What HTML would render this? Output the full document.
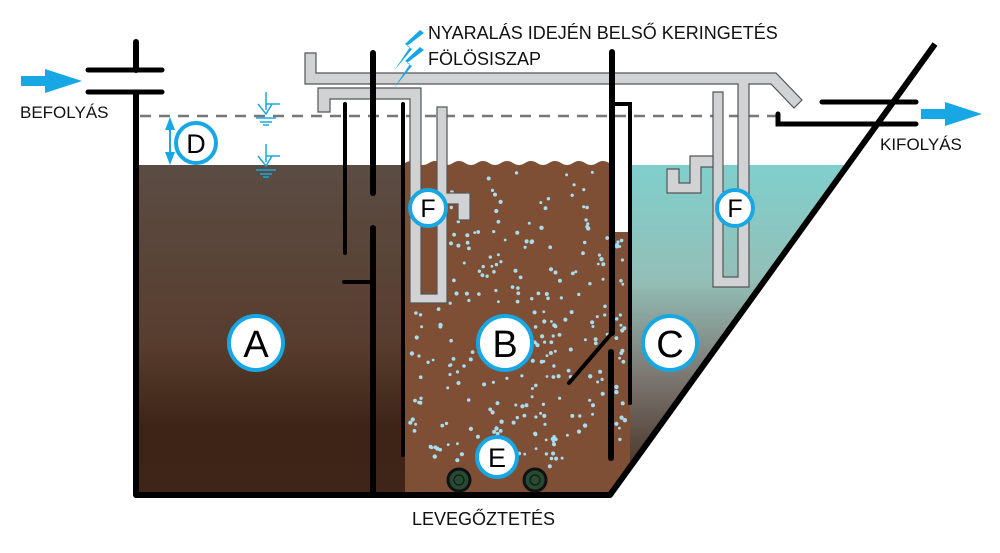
<!DOCTYPE html>
<html><head><meta charset="utf-8">
<style>
html,body{margin:0;padding:0;background:#fff;}
svg{display:block;}
text{font-family:"Liberation Sans",sans-serif;}
</style></head><body>
<svg id="s" width="1000" height="553" viewBox="0 0 1000 553" xmlns="http://www.w3.org/2000/svg">
<defs>
<linearGradient id="ga" x1="0" y1="0" x2="0" y2="1">
<stop offset="0" stop-color="#5b4c43"/><stop offset="0.55" stop-color="#583d2e"/><stop offset="0.8" stop-color="#3e2416"/><stop offset="1" stop-color="#3e2517"/>
</linearGradient>
<linearGradient id="gc" gradientUnits="userSpaceOnUse" x1="0" y1="165" x2="0" y2="493">
<stop offset="0" stop-color="#80cfcc"/><stop offset="0.35" stop-color="#93bfb7"/><stop offset="0.65" stop-color="#7b7670"/><stop offset="1" stop-color="#3d2519"/>
</linearGradient>
</defs>
<!-- fills -->
<rect x="138" y="165" width="268" height="328" fill="url(#ga)"/>
<path d="M405,163 q6,-4 12,0 t12,0 t12,0 t12,0 t12,0 t12,0 t12,0 t12,0 t12,0 t12,0 t12,0 t12,0 t12,0 t12,0 t12,0 t12,0 t12,0 L612,163 L612,493 L405,493 Z" fill="#7e4e35"/>
<path d="M612,232 L630,232 L630,467 L612,492 Z" fill="#7e4e35"/>
<path d="M630,165 L848,165 L630,467 Z" fill="url(#gc)"/>
<g id="dots" fill="#a8dcef"></g>
<!-- dashed level -->
<line x1="140" y1="116" x2="778" y2="116" stroke="#777" stroke-width="2.5" stroke-dasharray="11 8"/>
<!-- gray pipes -->
<g fill="#d1d2d4" stroke="#555" stroke-width="1.2">
<path d="M305,53 H316 V73 H776 L802,100 L794,108 L771,84 H749 V287 H713 V92 H723 V277 H738 V84 H305 Z"/>
<path d="M318,88 H421 V294 H437 V107 H447 V193 H470 V220 H458 V204 H447 V303 H410 V99 H330 V112 H318 Z"/>
<path d="M667,169 H679 V183 H690 V156 H713 V167 H701 V193 H667 Z"/>
</g>
<!-- walls -->
<g stroke="#000" fill="none" stroke-linecap="round">
<line x1="136" y1="42" x2="136" y2="70" stroke-width="6"/>
<path d="M136,92 V495 H610 L935,44" stroke-width="6" stroke-linejoin="round" stroke-linecap="butt"/>
<line x1="88" y1="70" x2="162" y2="70" stroke-width="5"/>
<line x1="88" y1="92" x2="162" y2="92" stroke-width="5"/>
<line x1="373" y1="53" x2="373" y2="193" stroke-width="6"/>
<line x1="373" y1="228" x2="373" y2="495" stroke-width="6"/>
<line x1="345" y1="104" x2="345" y2="253" stroke-width="4"/>
<line x1="344" y1="282" x2="373" y2="282" stroke-width="4"/>
<line x1="403" y1="104" x2="403" y2="455" stroke-width="4"/>
<line x1="612" y1="52" x2="612" y2="333" stroke-width="6"/>
<line x1="612" y1="333" x2="569" y2="383" stroke-width="4"/>
<line x1="611" y1="352" x2="611" y2="458" stroke-width="6"/>
<path d="M612,104 H630 V403" stroke-width="4"/>
<line x1="822" y1="102" x2="916" y2="102" stroke-width="5"/>
<path d="M778,114 V124 H916" stroke-width="5"/>
</g>
<!-- aerators -->
<circle cx="459" cy="480" r="11" fill="#274a33" stroke="#111" stroke-width="3"/>
<circle cx="459" cy="480" r="5" fill="none" stroke="#111" stroke-width="1"/>
<circle cx="535" cy="480" r="11" fill="#274a33" stroke="#111" stroke-width="3"/>
<circle cx="535" cy="480" r="5" fill="none" stroke="#111" stroke-width="1"/>
<!-- arrows -->
<path d="M21,76 H45 V69 L82,81 L45,93 V86 H21 Z" fill="#16a7e4"/>
<path d="M921,109 H945 V102 L982,114 L945,126 V119 H921 Z" fill="#16a7e4"/>
<path d="M420,30 L405,44 L410,47 L394,71 L412,49 L407,46 L424,33 Z" fill="#16a7e4"/>
<path d="M420,47 L405,61 L410,64 L394,88 L412,66 L407,63 L424,50 Z" fill="#16a7e4"/>
<!-- D arrow -->
<g fill="#16a7e4" stroke="#16a7e4">
<line x1="170" y1="122" x2="170" y2="160" stroke-width="2"/>
<path d="M170,117 L175,130 L165,130 Z" stroke="none"/>
<path d="M170,165 L175,152 L165,152 Z" stroke="none"/>
</g>
<!-- level symbols -->
<g stroke="#16a7e4" stroke-width="1.5" fill="none">
<path d="M266,92 V110 M266,104 H280 M258,104 L266,114 L272,104"/>
<line x1="256" y1="118" x2="276" y2="118"/><line x1="260" y1="122" x2="272" y2="122"/><line x1="263" y1="125" x2="269" y2="125"/>
<path d="M266,144 V162 M266,156 H280 M258,156 L266,166 L272,156"/>
<line x1="256" y1="170" x2="276" y2="170"/><line x1="260" y1="174" x2="272" y2="174"/><line x1="263" y1="177" x2="269" y2="177"/>
</g>
<!-- circles -->
<g fill="#fff" stroke="#16a7e4" stroke-width="4">
<circle cx="256" cy="343" r="27"/>
<circle cx="505" cy="343" r="27"/>
<circle cx="670" cy="343" r="27"/>
<circle cx="196" cy="143" r="20"/>
<circle cx="497" cy="457" r="20"/>
<circle cx="428" cy="208" r="18"/>
<circle cx="735" cy="208" r="18"/>
</g>
<g fill="#000" text-anchor="middle">
<text x="256" y="357" font-size="38">A</text>
<text x="505" y="357" font-size="38">B</text>
<text x="670" y="357" font-size="38">C</text>
<text x="196" y="153" font-size="27">D</text>
<text x="497" y="467" font-size="27">E</text>
<text x="428" y="217" font-size="25">F</text>
<text x="735" y="217" font-size="25">F</text>
</g>
<g fill="#111" font-size="18">
<text x="428" y="39">NYARALÁS IDEJÉN BELSŐ KERINGETÉS</text>
<text x="428" y="65">FÖLÖSISZAP</text>
<text x="20" y="118" font-size="17">BEFOLYÁS</text>
<text x="880" y="150" font-size="17">KIFOLYÁS</text>
<text x="412" y="525">LEVEGŐZTETÉS</text>
</g>
</svg>
<script>
(function(){
var g=document.getElementById('dots'),ns='http://www.w3.org/2000/svg';
var seed=7;function r(){seed=(seed*16807)%2147483647;return seed/2147483647;}
function add(x,y){var c=document.createElementNS(ns,'circle');c.setAttribute('cx',x.toFixed(1));c.setAttribute('cy',y.toFixed(1));c.setAttribute('r',(1.4+r()*0.8).toFixed(1));g.appendChild(c);}
for(var i=0;i<300;i++){var x=410+r()*198,y=172+r()*300;
 if(y>400){var w=(y-400)/75*70;if(Math.abs(x-497)>110-w*0.8)continue;}
 if(x>410&&x<450&&y>100&&y<306)continue;
 add(x,y);}
for(var j=0;j<26;j++){add(616+r()*10,240+r()*220);}
})();
</script>
</body></html>
